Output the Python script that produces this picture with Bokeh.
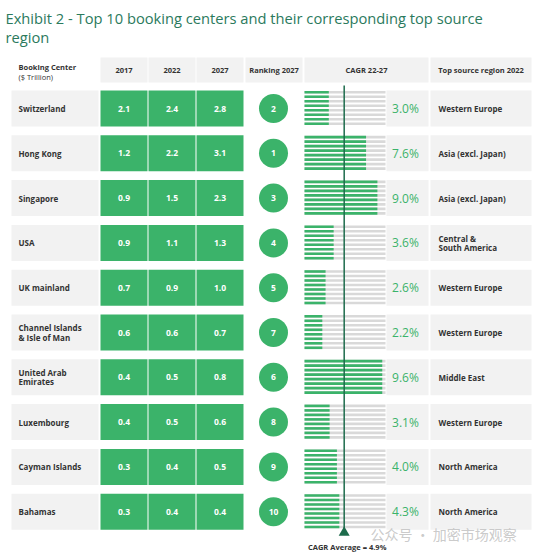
from bokeh.plotting import figure
from bokeh.models import Range1d
from bokeh.core.properties import value
from bokeh.embed import file_html
from bokeh.resources import INLINE

# ---------------- data ----------------
centers = ["Switzerland", "Hong Kong", "Singapore", "USA", "UK mainland",
           "Channel Islands\n& Isle of Man", "United Arab\nEmirates", "Luxembourg",
           "Cayman Islands", "Bahamas"]
v2017 = [2.1, 1.2, 0.9, 0.9, 0.7, 0.6, 0.4, 0.4, 0.3, 0.3]
v2022 = [2.4, 2.2, 1.5, 1.1, 0.9, 0.6, 0.5, 0.5, 0.4, 0.4]
v2027 = [2.8, 3.1, 2.3, 1.3, 1.0, 0.7, 0.8, 0.6, 0.5, 0.4]
ranking = [2, 1, 3, 4, 5, 7, 6, 8, 9, 10]
cagr = [3.0, 7.6, 9.0, 3.6, 2.6, 2.2, 9.6, 3.1, 4.0, 4.3]
regions = ["Western Europe", "Asia (excl. Japan)", "Asia (excl. Japan)",
           "Central &\nSouth America", "Western Europe", "Western Europe",
           "Middle East", "Western Europe", "North America", "North America"]
cagr_avg = 4.9
year_labels = ["2017", "2022", "2027"]
title_lines = ["Exhibit 2 - Top 10 booking centers and their corresponding top source", "region"]

# ---------------- style ----------------
GREEN = "#3bb36a"
GRAY_BOX = "#f2f2f2"
STRIPE = "#d9d9d9"
DARK = "#333333"
LINE = "#1d6b4c"
TITLE_C = "#2b7a5d"
FONT = value("Open Sans")

ROW_TOP0, PITCH, ROW_H = 90.0, 44.8, 36.0
BAR_X0, PX_PER_PCT, BAR_MAX = 304.0, 8.1, 10.0
N_STRIPES, STRIPE_PITCH, STRIPE_H = 8, 4.5, 2.6

W, H = 539, 555
p = figure(width=W, height=H, output_backend="svg", toolbar_location=None,
           x_range=Range1d(0, W), y_range=Range1d(H, 0), min_border=0)
p.axis.visible = False
p.grid.visible = False
p.outline_line_color = None
p.background_fill_color = "white"

n = len(centers)
tops = [ROW_TOP0 + PITCH * i for i in range(n)]
mids = [t + ROW_H / 2 for t in tops]
bots = [t + ROW_H for t in tops]

# title (two lines)
p.text(x=[5, 5], y=[17, 36], text=title_lines, text_font=FONT, text_font_size="14.7px",
       text_color=TITLE_C, text_baseline="middle")

# header
hdr_left = [100, 148, 196, 245, 304, 430]
hdr_right = [147, 195, 243, 302, 428, 531]
hdr_text = year_labels + ["Ranking 2027", "CAGR 22-27", "Top source region 2022"]
p.quad(left=hdr_left, right=hdr_right, top=[57] * 6, bottom=[82] * 6,
       fill_color=GRAY_BOX, line_color=None)
p.text(x=[(a + b) / 2 for a, b in zip(hdr_left, hdr_right)], y=[69.5] * 6, text=hdr_text,
       text_font=FONT, text_font_size="7.5px", text_font_style="bold", text_color=DARK,
       text_align="center", text_baseline="middle")
p.text(x=[18], y=[66], text=["Booking Center"], text_font=FONT, text_font_size="7.5px",
       text_font_style="bold", text_color=DARK, text_baseline="middle")
p.text(x=[18], y=[76], text=["($ Trillion)"], text_font=FONT, text_font_size="7.5px",
       text_color=DARK, text_baseline="middle")

# booking center boxes
p.quad(left=[11] * n, right=[98] * n, top=tops, bottom=bots, fill_color=GRAY_BOX, line_color=None)
p.text(x=[18] * n, y=mids, text=centers, text_font=FONT, text_font_size="8px",
       text_font_style="bold", text_color=DARK, text_baseline="middle", text_line_height=0.85)

# value cells
col_l = [100, 148, 196]
col_r = [147, 195, 243]
for j, vals in enumerate([v2017, v2022, v2027]):
    p.quad(left=[col_l[j]] * n, right=[col_r[j]] * n, top=tops, bottom=bots,
           fill_color=GREEN, line_color=None)
    p.text(x=[(col_l[j] + col_r[j]) / 2] * n, y=mids, text=[f"{v:.1f}" for v in vals],
           text_font=FONT, text_font_size="8.5px", text_font_style="bold", text_color="white",
           text_align="center", text_baseline="middle")

# ranking circles
p.circle(x=[273] * n, y=mids, radius=14.5, fill_color=GREEN, line_color=None)
p.text(x=[273] * n, y=mids, text=[str(r) for r in ranking], text_font=FONT,
       text_font_size="8.5px", text_font_style="bold", text_color="white",
       text_align="center", text_baseline="middle")

# CAGR striped bars
sl, sr_g, sr_f, st, sb = [], [], [], [], []
for i in range(n):
    for k in range(N_STRIPES):
        t = tops[i] + 0.5 + STRIPE_PITCH * k
        st.append(t)
        sb.append(t + STRIPE_H)
        sl.append(BAR_X0)
        sr_f.append(BAR_X0 + BAR_MAX * PX_PER_PCT)
        sr_g.append(BAR_X0 + cagr[i] * PX_PER_PCT)
p.quad(left=sl, right=sr_f, top=st, bottom=sb, fill_color=STRIPE, line_color=None)
p.quad(left=sl, right=sr_g, top=st, bottom=sb, fill_color=GREEN, line_color=None)

# percent boxes + region boxes
p.quad(left=[386] * n, right=[428] * n, top=tops, bottom=bots, fill_color=GRAY_BOX, line_color=None)
p.text(x=[405] * n, y=mids, text=[f"{c:.1f}%" for c in cagr], text_font=FONT,
       text_font_size="12px", text_color=GREEN, text_align="center", text_baseline="middle")
p.quad(left=[430] * n, right=[531] * n, top=tops, bottom=bots, fill_color=GRAY_BOX, line_color=None)
p.text(x=[438] * n, y=mids, text=regions, text_font=FONT, text_font_size="8px",
       text_font_style="bold", text_color=DARK, text_baseline="middle", text_line_height=0.75)

# average line
ax = BAR_X0 + cagr_avg * PX_PER_PCT
p.segment(x0=[ax], y0=[85], x1=[ax], y1=[533], line_color=LINE, line_width=1.5)
p.scatter(x=[ax], y=[532], marker="triangle", size=11, fill_color=LINE, line_color=None)
p.text(x=[ax + 3], y=[546], text=[f"CAGR Average = {cagr_avg}%"], text_font=FONT,
       text_font_size="7.5px", text_font_style="bold", text_color=DARK,
       text_align="center", text_baseline="middle")

# watermark
p.text(x=[370], y=[533], text=["公众号 · 加密市场观察"], text_font=value("Noto Sans CJK SC"),
       text_font_size="14px", text_color="#c4c4c4", text_baseline="middle", text_alpha=0.9)

open("out.html", "w").write(file_html(p, INLINE))
